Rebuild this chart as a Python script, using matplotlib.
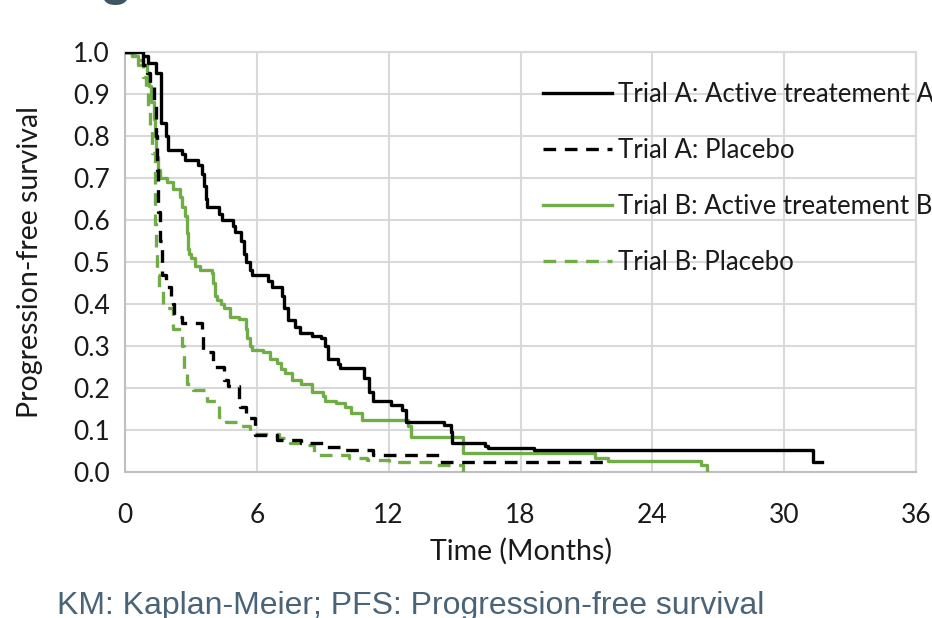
import matplotlib
matplotlib.use('Agg')
import matplotlib.pyplot as plt

# ---- data (time in months, survival probability) ----
a_active_t = [0, 0.82, 1.05, 1.4, 1.64, 1.66, 1.87, 1.96, 2.6, 2.75, 3.3, 3.5, 3.6, 3.7, 3.75,
              4.3, 4.4, 4.9, 5.0, 5.3, 5.4, 5.5, 5.7, 5.8, 6.5, 6.7, 7.15, 7.25, 7.4, 7.75,
              7.95, 8.5, 8.9, 9.1, 9.25, 9.7, 9.8, 10.9, 11.1, 11.3, 12.1, 12.6, 12.8, 14.5,
              14.85, 14.9, 16.4, 16.5, 18.6, 31.3, 31.7]
a_active_s = [1.0, 0.99, 0.975, 0.95, 0.87, 0.83, 0.80, 0.767, 0.757, 0.743, 0.73, 0.71, 0.68, 0.65, 0.631,
              0.615, 0.60, 0.585, 0.571, 0.55, 0.52, 0.50, 0.48, 0.469, 0.455, 0.44, 0.42, 0.39, 0.362, 0.345,
              0.331, 0.325, 0.32, 0.30, 0.27, 0.258, 0.248, 0.225, 0.19, 0.169, 0.16, 0.148, 0.12, 0.112,
              0.095, 0.069, 0.063, 0.057, 0.052, 0.024, 0.024]

a_placebo_t = [0, 0.5, 0.8, 1.0, 1.15, 1.3, 1.4, 1.45, 1.5, 1.6, 1.7, 1.85, 2.1, 2.2, 2.25, 2.6,
               3.5, 3.55, 4.0, 4.5, 4.7, 5.2, 5.25, 5.5, 5.9, 6.9, 8.0, 9.2, 10.0, 11.3, 14.3, 22.0]
a_placebo_s = [1.0, 0.99, 0.97, 0.95, 0.92, 0.88, 0.80, 0.72, 0.62, 0.55, 0.47, 0.44, 0.42, 0.40, 0.37, 0.355,
               0.33, 0.285, 0.25, 0.22, 0.205, 0.17, 0.155, 0.128, 0.088, 0.076, 0.069, 0.06, 0.052, 0.04, 0.024, 0.024]

b_active_t = [0, 0.3, 0.6, 0.8, 1.0, 1.1, 1.2, 1.3, 1.35, 1.4, 1.5, 1.6, 1.9, 2.2, 2.5, 2.6, 2.75,
              2.8, 2.85, 2.9, 3.0, 3.2, 3.4, 3.95, 4.0, 4.1, 4.2, 4.35, 4.5, 4.8, 5.2, 5.5, 5.55,
              5.7, 5.8, 6.3, 6.6, 6.9, 7.1, 7.3, 7.6, 8.0, 8.5, 9.0, 9.1, 9.6, 10.0, 10.3, 10.8,
              12.9, 13.0, 15.4, 21.4, 22.0, 26.2, 26.5]
b_active_s = [1.0, 0.99, 0.98, 0.97, 0.95, 0.92, 0.88, 0.84, 0.80, 0.75, 0.72, 0.70, 0.69, 0.675, 0.655, 0.63, 0.61,
              0.57, 0.53, 0.52, 0.51, 0.49, 0.48, 0.475, 0.45, 0.42, 0.41, 0.40, 0.39, 0.37, 0.365, 0.34, 0.32,
              0.30, 0.29, 0.285, 0.27, 0.26, 0.245, 0.235, 0.22, 0.21, 0.19, 0.18, 0.17, 0.165, 0.155, 0.14, 0.124,
              0.11, 0.083, 0.045, 0.033, 0.026, 0.016, 0.0]

b_placebo_t = [0, 0.3, 0.6, 0.8, 0.95, 1.05, 1.15, 1.25, 1.35, 1.37, 1.4, 1.45, 1.55, 1.75, 2.2, 2.6,
               2.7, 2.8, 3.1, 3.75, 4.3, 4.6, 5.2, 5.7, 7.0, 7.5, 8.2, 8.6, 10.2, 11.0, 12.0, 14.2, 15.4]
b_placebo_s = [1.0, 0.99, 0.97, 0.94, 0.91, 0.87, 0.82, 0.76, 0.69, 0.59, 0.52, 0.47, 0.44, 0.39, 0.34, 0.30,
               0.24, 0.21, 0.195, 0.17, 0.13, 0.12, 0.11, 0.09, 0.08, 0.07, 0.064, 0.04, 0.033, 0.029, 0.024, 0.017, 0.0]

labels = ["Trial A: Active treatement A", "Trial A: Placebo",
          "Trial B: Active treatement B", "Trial B: Placebo"]
x_ticks = [0, 6, 12, 18, 24, 30, 36]
y_ticks = [0.0, 0.1, 0.2, 0.3, 0.4, 0.5, 0.6, 0.7, 0.8, 0.9, 1.0]

BLACK = '#000000'
GREEN = '#70AD47'
GRID = '#D9D9D9'
TXT = '#1a1a1a'

plt.rcParams['font.family'] = ['Lato', 'DejaVu Sans']

W, H = 932, 618
fig = plt.figure(figsize=(W / 100, H / 100), dpi=100)
fig.patch.set_facecolor('white')
ax = fig.add_axes([125 / W, 1 - 472 / H, 791 / W, 420 / H])

lw = 2.4
ax.step(a_active_t, a_active_s, where='post', color=BLACK, lw=lw, label=labels[0], zorder=5)
l2, = ax.step(a_placebo_t, a_placebo_s, where='post', color=BLACK, lw=lw, label=labels[1], zorder=4)
ax.step(b_active_t, b_active_s, where='post', color=GREEN, lw=lw, label=labels[2], zorder=3)
l4, = ax.step(b_placebo_t, b_placebo_s, where='post', color=GREEN, lw=lw, label=labels[3], zorder=3)
l2.set_dashes([3.8, 2.6])
l4.set_dashes([3.8, 2.6])

ax.set_xlim(0, 36)
ax.set_ylim(0, 1.0)
ax.set_xticks(x_ticks)
ax.set_yticks(y_ticks)
ax.set_yticklabels([f"{v:.1f}" for v in y_ticks])
ax.grid(True, color=GRID, lw=1.5, zorder=0)
ax.set_axisbelow(True)
for s in ['top', 'right']:
    ax.spines[s].set_color(GRID)
    ax.spines[s].set_linewidth(1.5)
for s in ['left', 'bottom']:
    ax.spines[s].set_color('#BFBFBF')
    ax.spines[s].set_linewidth(1.5)
ax.tick_params(axis='both', length=0, labelsize=19, colors=TXT)
ax.tick_params(axis='x', pad=22)
ax.tick_params(axis='y', pad=11)

ax.set_xlabel("Time (Months)", fontsize=20.5, color=TXT)
ax.set_ylabel("Progression-free survival", fontsize=20.5, color=TXT)
ax.xaxis.set_label_coords(0.5, (472 - 551) / 420)
ax.xaxis.label.set_va('center')
ax.yaxis.set_label_coords((30 - 125) / 791, (472 - 262) / 420)
ax.yaxis.label.set_va('center')

leg = ax.legend(loc='upper left', bbox_to_anchor=(0.516, 0.952), frameon=False,
                fontsize=18.5, handlelength=2.68, handletextpad=0.23, labelspacing=1.2,
                borderaxespad=0)
for t in leg.get_texts():
    t.set_color(TXT)

# caption and cut-off title fragment
fig.text(57 / W, 1 - 606 / H, "KM: Kaplan-Meier; PFS: Progression-free survival",
         fontsize=23, color='#4A6377', family=['Liberation Sans', 'DejaVu Sans'],
         ha='left', va='center')
fig.text(100 / W, 1 + 6 / H, "g", fontsize=38, color='#3E5566', fontweight='bold',
         family=['Liberation Sans', 'DejaVu Sans'], ha='left', va='baseline')

fig.savefig('out.png', dpi=100)
